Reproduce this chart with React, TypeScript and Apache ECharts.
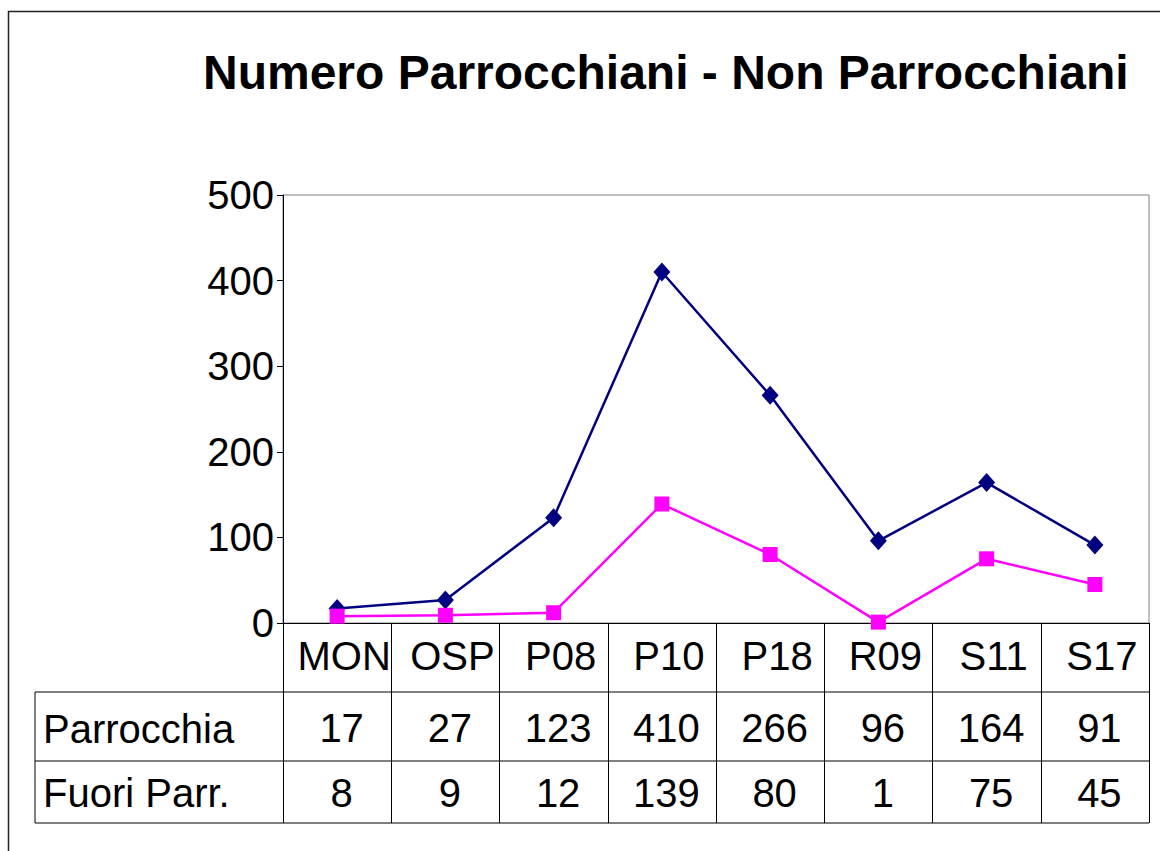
import React, { useEffect, useRef } from "react";
import * as echarts from "echarts";

const categories = ["MON", "OSP", "P08", "P10", "P18", "R09", "S11", "S17"];
const parrocchia = [17, 27, 123, 410, 266, 96, 164, 91];
const fuoriParr = [8, 9, 12, 139, 80, 1, 75, 45];
const seriesNames = ["Parrocchia", "Fuori Parr."];
const yTicks = { min: 0, max: 500, interval: 100 };
const titleText = "Numero Parrocchiani - Non Parrocchiani";

const FONT = '"Liberation Sans", Arial, Helvetica, sans-serif';

export default function App() {
  const ref = useRef<HTMLDivElement>(null);
  useEffect(() => {
    if (!ref.current) return;
    const chart = echarts.init(ref.current, null, { renderer: "svg" });
    const L = 283, R = 1149, T = 195, B = 623;
    chart.setOption({
      animation: false,
      backgroundColor: "#ffffff",
      textStyle: { fontFamily: FONT },
      grid: {
        left: L, right: 1160 - R, top: T, bottom: 851 - B,
        show: true, borderColor: "#808080", borderWidth: 1, backgroundColor: "transparent",
      },
      xAxis: {
        type: "category",
        data: categories,
        boundaryGap: true,
        axisLine: { show: true, lineStyle: { color: "#000", width: 1 } },
        axisTick: { show: true, length: 200, interval: 0, lineStyle: { color: "#000", width: 1 } },
        splitLine: { show: false },
        axisLabel: {
          interval: 0,
          margin: 0,
          color: "#000",
          fontFamily: FONT,
          fontSize: 40,
          formatter: (v: string, i: number) => `{c|${v}}\n{p|${parrocchia[i]}}\n{f|${fuoriParr[i]}}`,
          rich: {
            c: { fontSize: 40, fontFamily: FONT, color: "#000", lineHeight: 66, padding: [0, 0, 0, 14] },
            p: { fontSize: 40, fontFamily: FONT, color: "#000", lineHeight: 78, padding: [0, 0, 0, 9] },
            f: { fontSize: 40, fontFamily: FONT, color: "#000", lineHeight: 52, padding: [0, 0, 0, 9] },
          },
        },
      },
      yAxis: {
        type: "value",
        min: yTicks.min,
        max: yTicks.max,
        interval: yTicks.interval,
        axisLine: { show: true, lineStyle: { color: "#000", width: 1 } },
        axisTick: { show: true, length: 6, lineStyle: { color: "#000", width: 1 } },
        splitLine: { show: false },
        axisLabel: { color: "#000", fontSize: 40, fontFamily: FONT, margin: 9 },
      },
      series: [
        {
          name: seriesNames[0],
          type: "line",
          data: parrocchia,
          symbol: "diamond",
          symbolSize: [17, 19],
          color: "#000080",
          lineStyle: { color: "#000080", width: 2.5 },
          itemStyle: { color: "#000080" },
        },
        {
          name: seriesNames[1],
          type: "line",
          data: fuoriParr,
          symbol: "rect",
          symbolSize: 15,
          color: "#FF00FF",
          lineStyle: { color: "#FF00FF", width: 2.5 },
          itemStyle: { color: "#FF00FF" },
        },
      ],
      graphic: [
        { type: "rect", shape: { x: 8.5, y: 11.5, width: 1400, height: 1000 }, style: { fill: "none", stroke: "#222", lineWidth: 1.5 }, z: 0 },
        { type: "text", x: 203, y: 72, style: { text: titleText, fontSize: 48, fontWeight: "bold", fontFamily: FONT, fill: "#000", textVerticalAlign: "middle" } },
        { type: "line", shape: { x1: 35, y1: 692, x2: R, y2: 692 }, style: { stroke: "#000", lineWidth: 1 } },
        { type: "line", shape: { x1: 35, y1: 761, x2: R, y2: 761 }, style: { stroke: "#000", lineWidth: 1 } },
        { type: "line", shape: { x1: 35, y1: 823, x2: R, y2: 823 }, style: { stroke: "#000", lineWidth: 1 } },
        { type: "line", shape: { x1: 35, y1: 692, x2: 35, y2: 823 }, style: { stroke: "#000", lineWidth: 1 } },
        { type: "text", x: 43, y: 729, style: { text: seriesNames[0], fontSize: 40, fontFamily: FONT, fill: "#000", textVerticalAlign: "middle" } },
        { type: "text", x: 43, y: 793, style: { text: seriesNames[1], fontSize: 40, fontFamily: FONT, fill: "#000", textVerticalAlign: "middle" } },
      ],
    });
    return () => chart.dispose();
  }, []);
  return <div ref={ref} style={{ position: "fixed", left: 0, top: 0, width: 1160, height: 851 }} />;
}
